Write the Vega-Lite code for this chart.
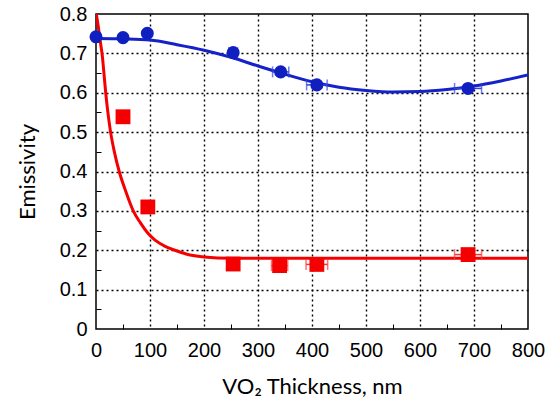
{
  "$schema": "https://vega.github.io/schema/vega-lite/v6.json",
  "autosize": "none",
  "width": 432,
  "height": 315,
  "padding": {"left": 96, "top": 14, "right": 32, "bottom": 75},
  "background": "white",
  "config": {
    "view": {"stroke": "black", "strokeWidth": 1.5},
    "axis": {
      "labelFont": "Liberation Sans",
      "labelFontSize": 20,
      "labelColor": "black",
      "titleFont": "Lato",
      "titleFontSize": 22,
      "titleFontWeight": "normal",
      "titleColor": "black",
      "domain": false,
      "tickColor": "black",
      "gridColor": "black",
      "gridDash": [2, 3],
      "gridWidth": 1.4
    }
  },
  "datasets": {
    "pts": [
      {"series": "blue", "x": 0, "y": 0.742, "err": 0},
      {"series": "blue", "x": 50, "y": 0.740, "err": 0},
      {"series": "blue", "x": 95, "y": 0.751, "err": 0},
      {"series": "blue", "x": 254, "y": 0.702, "err": 8},
      {"series": "blue", "x": 342, "y": 0.653, "err": 15},
      {"series": "blue", "x": 409, "y": 0.620, "err": 19},
      {"series": "blue", "x": 689, "y": 0.611, "err": 25},
      {"series": "red", "x": 50, "y": 0.539, "err": 0},
      {"series": "red", "x": 96, "y": 0.310, "err": 0},
      {"series": "red", "x": 254, "y": 0.165, "err": 0},
      {"series": "red", "x": 340, "y": 0.161, "err": 15},
      {"series": "red", "x": 409, "y": 0.164, "err": 20},
      {"series": "red", "x": 689, "y": 0.189, "err": 25}
    ],
    "curves": [
      {"series": "red", "x": 0, "y": 0.805},
      {"series": "red", "x": 4, "y": 0.77},
      {"series": "red", "x": 8, "y": 0.73},
      {"series": "red", "x": 12, "y": 0.69},
      {"series": "red", "x": 15, "y": 0.645},
      {"series": "red", "x": 18, "y": 0.60},
      {"series": "red", "x": 22, "y": 0.55},
      {"series": "red", "x": 27, "y": 0.50},
      {"series": "red", "x": 34, "y": 0.45},
      {"series": "red", "x": 43, "y": 0.40},
      {"series": "red", "x": 55, "y": 0.35},
      {"series": "red", "x": 69, "y": 0.30},
      {"series": "red", "x": 82, "y": 0.27},
      {"series": "red", "x": 95, "y": 0.245},
      {"series": "red", "x": 110, "y": 0.225},
      {"series": "red", "x": 128, "y": 0.21},
      {"series": "red", "x": 146, "y": 0.20},
      {"series": "red", "x": 174, "y": 0.188},
      {"series": "red", "x": 200, "y": 0.183},
      {"series": "red", "x": 250, "y": 0.18},
      {"series": "red", "x": 300, "y": 0.18},
      {"series": "red", "x": 400, "y": 0.18},
      {"series": "red", "x": 500, "y": 0.18},
      {"series": "red", "x": 600, "y": 0.18},
      {"series": "red", "x": 700, "y": 0.18},
      {"series": "red", "x": 800, "y": 0.18},
      {"series": "blue", "x": 0, "y": 0.738},
      {"series": "blue", "x": 50, "y": 0.737},
      {"series": "blue", "x": 100, "y": 0.734},
      {"series": "blue", "x": 150, "y": 0.722},
      {"series": "blue", "x": 200, "y": 0.708},
      {"series": "blue", "x": 250, "y": 0.69},
      {"series": "blue", "x": 300, "y": 0.668},
      {"series": "blue", "x": 350, "y": 0.647},
      {"series": "blue", "x": 400, "y": 0.628},
      {"series": "blue", "x": 450, "y": 0.614},
      {"series": "blue", "x": 500, "y": 0.606},
      {"series": "blue", "x": 550, "y": 0.602},
      {"series": "blue", "x": 600, "y": 0.603},
      {"series": "blue", "x": 650, "y": 0.608},
      {"series": "blue", "x": 700, "y": 0.617},
      {"series": "blue", "x": 750, "y": 0.630},
      {"series": "blue", "x": 800, "y": 0.645}
    ]
  },
  "encoding": {
    "x": {
      "field": "x", "type": "quantitative",
      "scale": {"domain": [0, 800], "nice": false},
      "axis": {
        "title": "VO₂ Thickness, nm",
        "values": [0,50,100,150,200,250,300,350,400,450,500,550,600,650,700,750,800],
        "labelExpr": "datum.value % 100 === 0 ? datum.label : ''",
        "gridOpacity": {"condition": {"test": "datum.value % 100 === 0 && datum.value > 0 && datum.value < 800", "value": 1}, "value": 0},
        "tickOpacity": {"condition": {"test": "datum.value % 100 === 0", "value": 0}, "value": 1},
        "tickSize": -5,
        "labelPadding": 16,
        "labelFlush": false,
        "titlePadding": 16
      }
    },
    "y": {
      "field": "y", "type": "quantitative",
      "scale": {"domain": [0, 0.8], "nice": false},
      "axis": {
        "title": "Emissivity",
        "values": [0,0.05,0.1,0.15,0.2,0.25,0.3,0.35,0.4,0.45,0.5,0.55,0.6,0.65,0.7,0.75,0.8],
        "labelExpr": "abs(datum.value*10 - round(datum.value*10)) < 0.01 ? format(datum.value, '.1~f') : ''",
        "gridOpacity": {"condition": {"test": "abs(datum.value*10 - round(datum.value*10)) < 0.01 && datum.value > 0.001 && datum.value < 0.799", "value": 1}, "value": 0},
        "tickOpacity": {"condition": {"test": "abs(datum.value*10 - round(datum.value*10)) < 0.01", "value": 0}, "value": 1},
        "tickSize": -5,
        "labelPadding": 14,
        "labelFlush": false,
        "titlePadding": 20
      }
    }
  },
  "layer": [
    {
      "data": {"name": "curves"},
      "transform": [{"filter": "datum.series === 'blue'"}],
      "mark": {"type": "line", "color": "#1522C8", "strokeWidth": 3, "interpolate": "monotone", "clip": true},
      "encoding": {}
    },
    {
      "data": {"name": "curves"},
      "transform": [{"filter": "datum.series === 'red'"}],
      "mark": {"type": "line", "color": "#F50000", "strokeWidth": 3, "interpolate": "monotone", "clip": true},
      "encoding": {}
    },
    {
      "data": {"name": "pts"},
      "transform": [{"filter": "datum.err > 0"}, {"calculate": "datum.x - datum.err", "as": "xlo"}, {"calculate": "datum.x + datum.err", "as": "xhi"}],
      "mark": {"type": "rule", "strokeWidth": 1.5},
      "encoding": {
        "x": {"field": "xlo", "type": "quantitative"},
        "x2": {"field": "xhi"},
        "color": {"field": "series", "type": "nominal", "scale": {"domain": ["blue", "red"], "range": ["#3344DD", "#FF3333"]}, "legend": null}
      }
    },
    {
      "data": {"name": "pts"},
      "transform": [{"filter": "datum.err > 0"}, {"calculate": "datum.x - datum.err", "as": "xlo"}],
      "mark": {"type": "tick", "orient": "vertical", "size": 11, "thickness": 1.5},
      "encoding": {
        "x": {"field": "xlo", "type": "quantitative"},
        "color": {"field": "series", "type": "nominal", "scale": {"domain": ["blue", "red"], "range": ["#3344DD", "#FF3333"]}, "legend": null}
      }
    },
    {
      "data": {"name": "pts"},
      "transform": [{"filter": "datum.err > 0"}, {"calculate": "datum.x + datum.err", "as": "xhi"}],
      "mark": {"type": "tick", "orient": "vertical", "size": 11, "thickness": 1.5},
      "encoding": {
        "x": {"field": "xhi", "type": "quantitative"},
        "color": {"field": "series", "type": "nominal", "scale": {"domain": ["blue", "red"], "range": ["#3344DD", "#FF3333"]}, "legend": null}
      }
    },
    {
      "data": {"name": "pts"},
      "transform": [{"filter": "datum.series === 'red'"}],
      "mark": {"type": "square", "color": "#F50000", "opacity": 1, "filled": true, "size": 220},
      "encoding": {}
    },
    {
      "data": {"name": "pts"},
      "transform": [{"filter": "datum.series === 'blue'"}],
      "mark": {"type": "circle", "color": "#1020C0", "opacity": 1, "size": 170, "clip": false},
      "encoding": {}
    }
  ]
}
